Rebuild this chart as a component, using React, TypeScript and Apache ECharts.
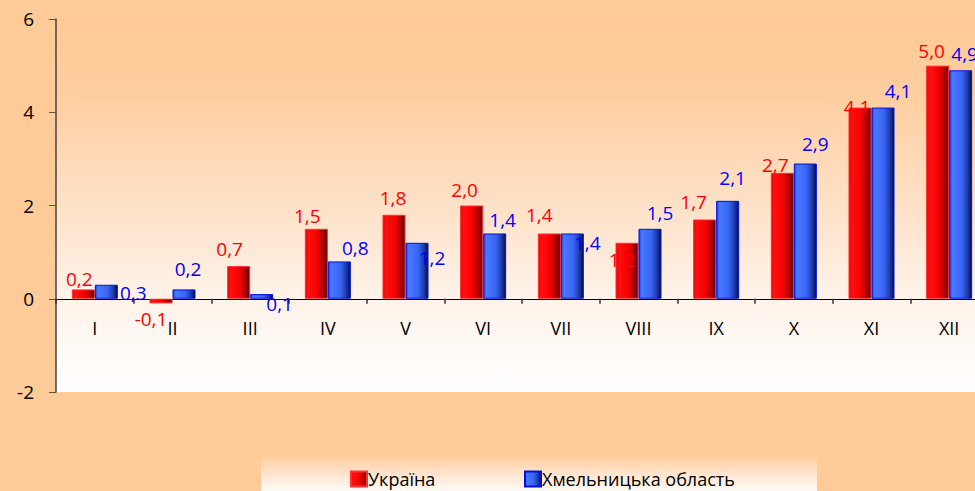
import React, { useEffect, useRef } from "react";
import * as echarts from "echarts";

const categories = ["I", "II", "III", "IV", "V", "VI", "VII", "VIII", "IX", "X", "XI", "XII"];
const ukraine = [0.2, -0.1, 0.7, 1.5, 1.8, 2.0, 1.4, 1.2, 1.7, 2.7, 4.1, 5.0];
const khmelnytska = [0.3, 0.2, 0.1, 0.8, 1.2, 1.4, 1.4, 1.5, 2.1, 2.9, 4.1, 4.9];
const seriesNames = ["Україна", "Хмельницька область"];
const yTicks = { min: -2, max: 6, interval: 2 };

// label placement (style only), relative to default top position
const redOffsets: [number, number][] = [
  [-4, 0], [-10, 6], [-9, -7], [-9, -3], [-1, -7], [-7, -6],
  [-10, -8], [-5, 27], [-11, -7], [-7, 2], [-3, 9], [-6, -5],
];
const blueOffsets: [number, number][] = [
  [27, 18], [4, -10], [18, 20], [16, -3], [15, 25], [8, -3],
  [15, 20], [10, -6], [5, -13], [10, -10], [15, -7], [4, -6],
];

const FONT = "Open Sans";
const fmt = (v: number) => v.toFixed(1).replace(".", ",");

const GRID_TOP = 19;
const GRID_BOTTOM = 99;
const CHART_W = 988;
const CHART_H = 491;

export default function App() {
  const ref = useRef<HTMLDivElement>(null);
  useEffect(() => {
    if (!ref.current) return;
    const chart = echarts.init(ref.current, null, { renderer: "svg" });

    const redFill = new echarts.graphic.LinearGradient(0, 0, 1, 0, [
      { offset: 0, color: "#E00000" },
      { offset: 0.12, color: "#FF1010" },
      { offset: 0.55, color: "#F50000" },
      { offset: 0.8, color: "#B00000" },
      { offset: 1, color: "#5A0000" },
    ]);
    const blueFill = new echarts.graphic.LinearGradient(0, 0, 1, 0, [
      { offset: 0, color: "#1A3FE0" },
      { offset: 0.12, color: "#4A78FF" },
      { offset: 0.55, color: "#3865F5" },
      { offset: 0.8, color: "#1E3CB0" },
      { offset: 1, color: "#061040" },
    ]);

    const mkData = (vals: number[], offs: [number, number][], color: string) =>
      vals.map((v, i) => ({
        value: v,
        label: {
          show: true,
          position: v < 0 ? "bottom" : "top",
          distance: 0,
          offset: offs[i],
          color,
          fontFamily: FONT,
          fontSize: 19,
          lineHeight: 20,
          formatter: (p: any) => fmt(p.value),
        },
      }));

    // place the category axis at value 0 (pixel offset from grid bottom)
    const gridH = CHART_H - GRID_TOP - GRID_BOTTOM;
    const zeroFromBottom = ((0 - yTicks.min) / (yTicks.max - yTicks.min)) * gridH;

    const legendText = { fontFamily: FONT, fontSize: 18, color: "#000", padding: [0, 0, 0, -4] };

    chart.setOption({
      animation: false,
      backgroundColor: "#FFCB98",
      textStyle: { fontFamily: FONT },
      grid: {
        left: 56,
        right: 0,
        top: GRID_TOP,
        bottom: GRID_BOTTOM,
        show: true,
        borderWidth: 0,
        backgroundColor: new echarts.graphic.LinearGradient(0, 0, 0, 1, [
          { offset: 0, color: "#FFCA96" },
          { offset: 0.2, color: "#FFCE9F" },
          { offset: 0.5, color: "#FEE1C7" },
          { offset: 0.75, color: "#FFF3EA" },
          { offset: 1, color: "#FFFFFF" },
        ]),
      },
      graphic: [
        {
          type: "rect",
          z: 0,
          shape: { x: 261, y: 455, width: 556, height: 40 },
          style: {
            fill: new echarts.graphic.LinearGradient(0, 0, 0, 1, [
              { offset: 0, color: "#FFCC9A" },
              { offset: 0.6, color: "#FFEBDB" },
              { offset: 1, color: "#FFFFFF" },
            ]),
          },
        },
      ],
      legend: [
        {
          data: [seriesNames[0]],
          left: 350,
          top: 470,
          padding: 0,
          icon: "rect",
          itemWidth: 16,
          itemHeight: 15,
          textStyle: legendText,
        },
        {
          data: [seriesNames[1]],
          left: 524,
          top: 470,
          padding: 0,
          icon: "rect",
          itemWidth: 16,
          itemHeight: 15,
          textStyle: legendText,
        },
      ],
      xAxis: {
        type: "category",
        data: categories,
        offset: -zeroFromBottom,
        axisLine: { show: true, onZero: false, lineStyle: { color: "#000", width: 1 } },
        axisTick: { show: true, length: 5, lineStyle: { color: "#333", width: 1.5 } },
        axisLabel: { color: "#000", fontFamily: FONT, fontSize: 18, margin: 20 },
        splitLine: { show: false },
      },
      yAxis: {
        type: "value",
        min: yTicks.min,
        max: yTicks.max,
        interval: yTicks.interval,
        axisLine: { show: true, lineStyle: { color: "#444", width: 1.5 } },
        axisTick: { show: true, length: 7, lineStyle: { color: "#555" } },
        axisLabel: { color: "#000", fontFamily: FONT, fontSize: 19, margin: 22 },
        splitLine: { show: false },
      },
      series: [
        {
          name: seriesNames[0],
          type: "bar",
          barWidth: 23,
          barGap: "0%",
          itemStyle: { color: redFill, borderColor: "#FF3030", borderWidth: 1 },
          data: mkData(ukraine, redOffsets, "#FF0000"),
        },
        {
          name: seriesNames[1],
          type: "bar",
          barWidth: 23,
          barGap: "0%",
          itemStyle: { color: blueFill, borderColor: "#0010E0", borderWidth: 1 },
          data: mkData(khmelnytska, blueOffsets, "#0000FF"),
        },
      ],
    });
    return () => chart.dispose();
  }, []);
  return (
    <div
      style={{
        position: "absolute",
        left: 0,
        top: 0,
        width: 975,
        height: CHART_H,
        overflow: "hidden",
        background: "#FFCB98",
      }}
    >
      <div ref={ref} style={{ width: CHART_W, height: CHART_H }} />
    </div>
  );
}
